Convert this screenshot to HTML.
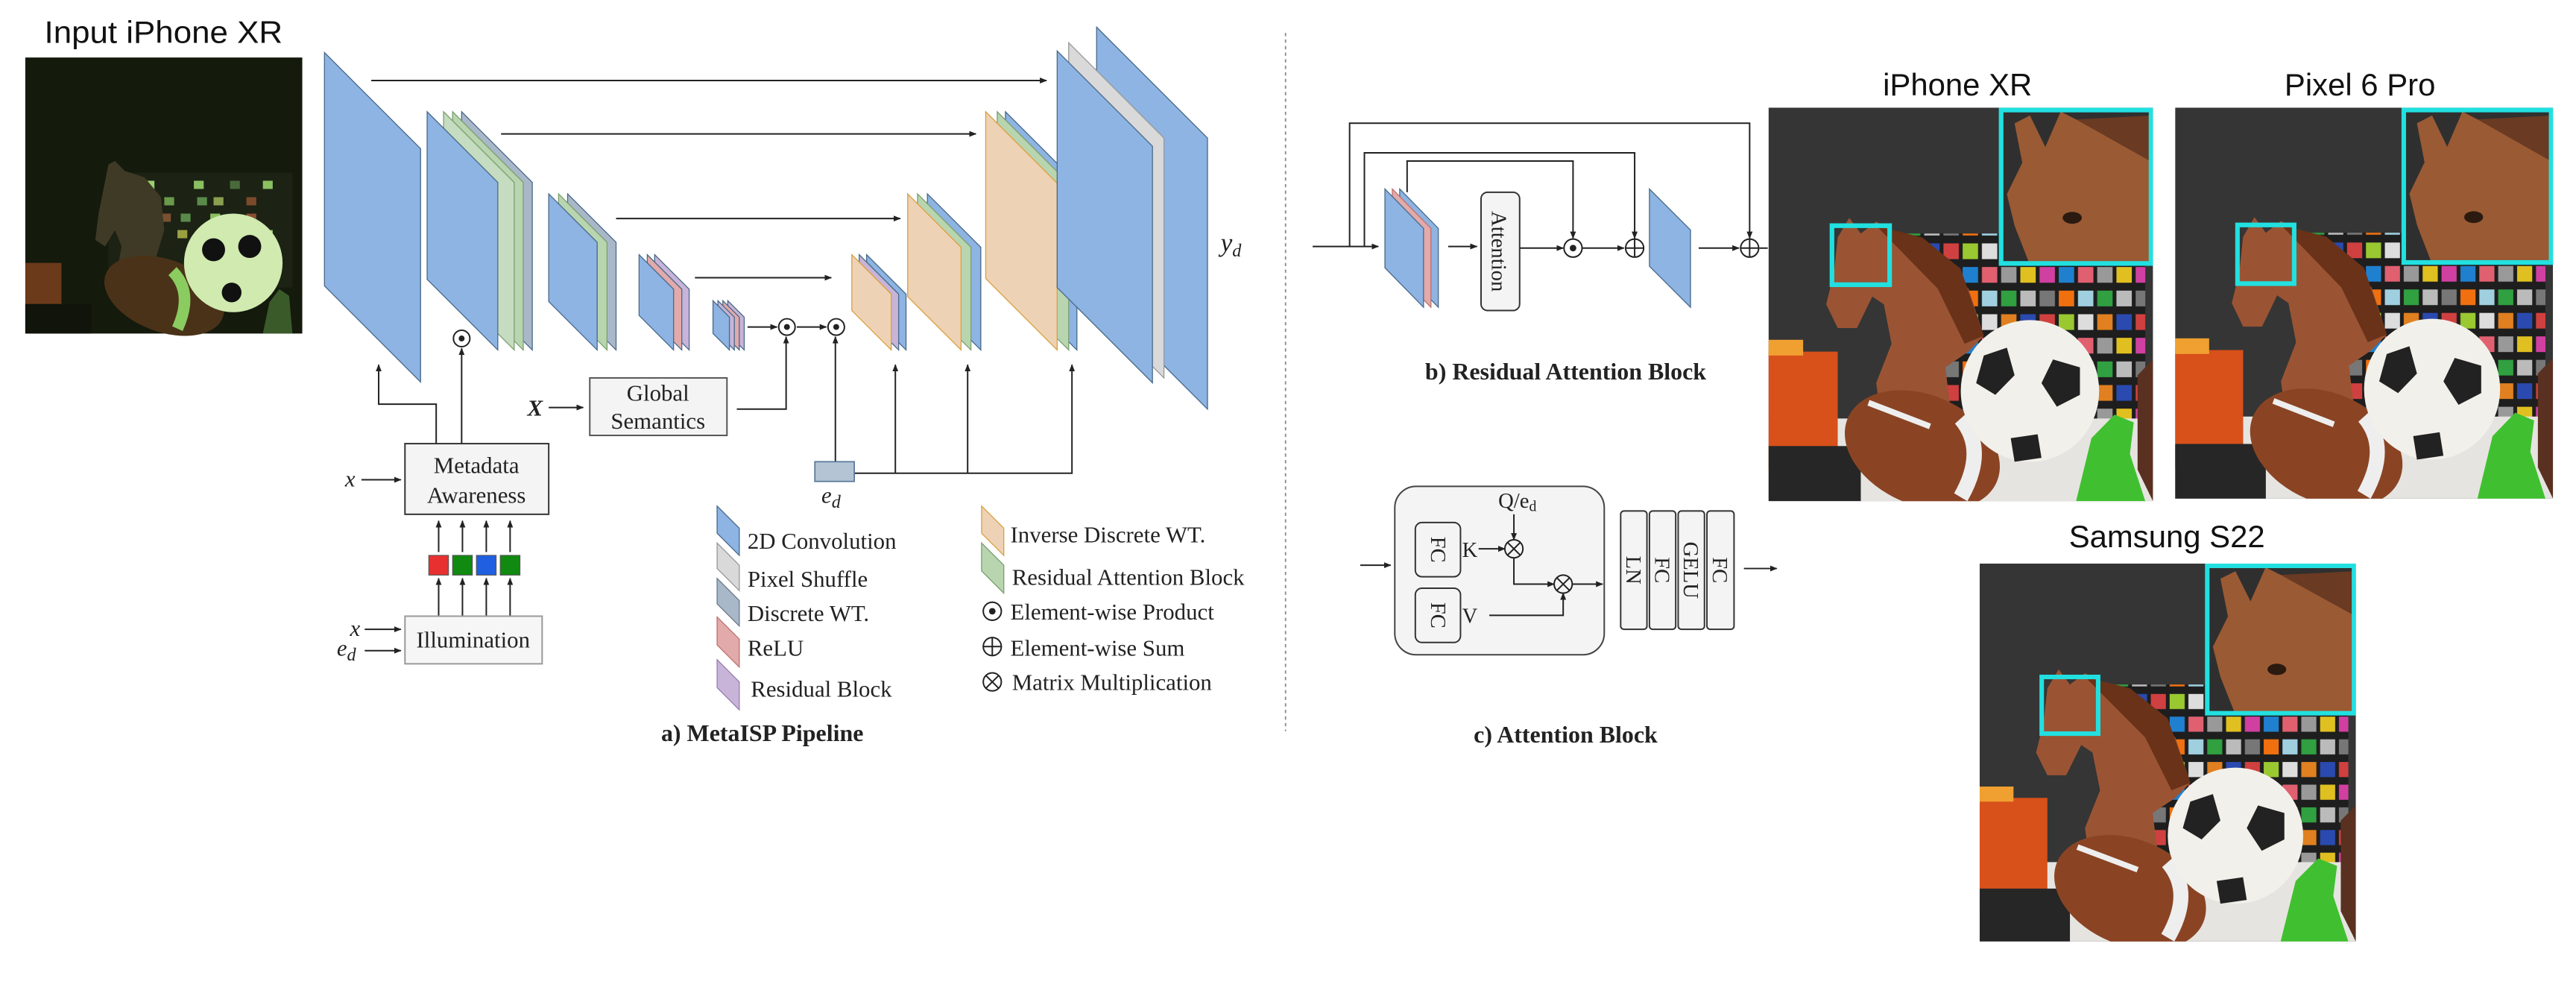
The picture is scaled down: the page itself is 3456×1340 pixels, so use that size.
<!DOCTYPE html>
<html><head><meta charset="utf-8"><style>
html,body{margin:0;padding:0;background:#fff;}
svg{display:block;}
.s{font-family:"Liberation Serif",serif;fill:#222;}
.a{font-family:"Liberation Sans",sans-serif;fill:#111;}
</style></head><body>
<svg width="3456" height="1340" viewBox="0 0 1568 608" preserveAspectRatio="none" xmlns="http://www.w3.org/2000/svg">
<defs>
<marker id="ar" viewBox="0 0 10 10" refX="9" refY="5" markerWidth="5" markerHeight="5" orient="auto"><path d="M0,1 L10,5 L0,9 z" fill="#222"/></marker>
<pattern id="chk" x="35" y="34" width="25" height="18" patternUnits="userSpaceOnUse">
<rect width="25" height="18" fill="#1e1e1e"/>
<rect x="0.5" y="0.5" width="4" height="4" fill="#e08020"/><rect x="5.5" y="0.5" width="4" height="4" fill="#2a4ab0"/><rect x="10.5" y="0.5" width="4" height="4" fill="#d04040"/><rect x="15.5" y="0.5" width="4" height="4" fill="#9ac830"/><rect x="20.5" y="0.5" width="4" height="4" fill="#ddd"/>
<rect x="0.5" y="6.5" width="4" height="4" fill="#999"/><rect x="5.5" y="6.5" width="4" height="4" fill="#e0c020"/><rect x="10.5" y="6.5" width="4" height="4" fill="#d040a0"/><rect x="15.5" y="6.5" width="4" height="4" fill="#2080d0"/><rect x="20.5" y="6.5" width="4" height="4" fill="#e06070"/>
<rect x="0.5" y="12.5" width="4" height="4" fill="#30a040"/><rect x="5.5" y="12.5" width="4" height="4" fill="#bbb"/><rect x="10.5" y="12.5" width="4" height="4" fill="#777"/><rect x="15.5" y="12.5" width="4" height="4" fill="#f07010"/><rect x="20.5" y="12.5" width="4" height="4" fill="#a0d0e0"/>
</pattern>
<symbol id="photo" viewBox="0 0 100 100" preserveAspectRatio="none">
<rect width="100" height="100" fill="#353535"/>
<rect x="33" y="32" width="65" height="50" fill="url(#chk)"/>
<path d="M18,33 L21,28 L24,32 L28,29 L34,32 L44,38 L52,46 L56,58 L52,62 L46,66 L48,82 L30,84 L28,70 L32,60 L30,50 L27,48 L23,56 L18,56 L15,50 L17,42 Z" fill="#9a5434"/>
<path d="M28,30 L40,33 L50,41 L56,58 L51,60 L44,46 Z" fill="#6a3218"/>
<rect x="0" y="79" width="100" height="21" fill="#e6e4e0"/>
<rect x="0" y="62" width="18" height="30" fill="#d8501a"/><rect x="0" y="59" width="9" height="4" fill="#f0a030"/>
<rect x="0" y="86" width="24" height="14" fill="#262626"/>
<ellipse cx="40" cy="87" rx="21" ry="14" transform="rotate(22 40 87)" fill="#8a4424"/>
<path d="M50,79 Q57,87 50,99" stroke="#eee" stroke-width="4" fill="none"/>
<path d="M26,75 L42,81" stroke="#eee" stroke-width="1.5"/>
<circle cx="68" cy="72" r="18" fill="#f2f0ea"/>
<path d="M56,63 L62,61 L64,68 L59,73 L54,70 Z" fill="#222"/><path d="M74,64 L81,66 L81,73 L75,76 L71,70 Z" fill="#222"/><path d="M63,84 L70,83 L71,89 L64,90 Z" fill="#222"/>
<path d="M84,84 L90,78 L95,80 L94,88 L98,100 L80,100 Z" fill="#40c030"/>
<path d="M96,68 L100,64 L100,100 L96,92 Z" fill="#5a3020"/>
<rect x="60" y="0" width="40" height="40" fill="#2f2f2f"/>
<path d="M64,4 L68,2 L72,10 L76,1 L80,3 L100,5 L100,40 L68,40 L64,30 L62,22 L66,14 Z" fill="#9a5a34"/>
<path d="M80,3 L100,2 L100,14 Z" fill="#6a3a22"/>
<ellipse cx="79" cy="28" rx="2.5" ry="1.5" fill="#2a1a10"/>
<rect x="60.5" y="0.6" width="39" height="39" fill="none" stroke="#22e0e0" stroke-width="1.2"/>
<rect x="16.5" y="30" width="15" height="15" fill="none" stroke="#22e0e0" stroke-width="1.2"/>
</symbol>
</defs>

<!-- Input photo -->
<text class="a" x="27" y="26" font-size="19" textLength="145" lengthAdjust="spacingAndGlyphs">Input iPhone XR</text>
<g>
<rect x="15.4" y="35" width="168.6" height="168" fill="#141a0c"/>
<rect x="66" y="105" width="112" height="70" fill="#1c2214"/>
<g fill="#6a9a4a">
<rect x="72" y="110" width="6" height="5"/><rect x="88" y="110" width="6" height="5" fill="#9ad070"/><rect x="118" y="110" width="6" height="5" fill="#8ac060"/><rect x="160" y="110" width="6" height="5" fill="#8ac060"/><rect x="140" y="110" width="6" height="5" fill="#4a6a3a"/>
<rect x="80" y="120" width="6" height="5" fill="#6a6a3a"/><rect x="100" y="120" width="6" height="5"/><rect x="120" y="120" width="6" height="5" fill="#5a8a4a"/><rect x="130" y="120" width="6" height="5" fill="#8aa050"/><rect x="150" y="120" width="6" height="5" fill="#7a4a2a"/>
<rect x="78" y="130" width="6" height="5" fill="#8a7040"/><rect x="98" y="130" width="6" height="5" fill="#7a5030"/><rect x="128" y="130" width="6" height="5" fill="#8ac060"/><rect x="150" y="130" width="6" height="5" fill="#8a5030"/><rect x="110" y="130" width="6" height="5" fill="#5a8a4a"/>
<rect x="88" y="140" width="6" height="5" fill="#4a9a4a"/><rect x="108" y="140" width="6" height="5" fill="#9aa040"/><rect x="138" y="140" width="6" height="5" fill="#8ac060"/><rect x="160" y="140" width="6" height="5" fill="#9ad070"/>
<rect x="86" y="150" width="6" height="5" fill="#8ac060"/><rect x="118" y="150" width="6" height="5"/><rect x="146" y="150" width="6" height="5" fill="#a05a30"/>
<rect x="120" y="160" width="6" height="5" fill="#8ac060"/><rect x="150" y="160" width="6" height="5"/><rect x="162" y="162" width="6" height="5" fill="#9ad070"/>
</g>
<path d="M66,100 L70,98 L76,104 L88,108 L98,120 L100,140 L94,160 L80,172 L70,172 L74,150 L70,140 L64,150 L58,146 L60,130 Z" fill="#3e3a26"/>
<rect x="15.4" y="160" width="22" height="43" fill="#6a3a1a"/>
<rect x="15.4" y="185" width="40" height="18" fill="#10140a"/>
<ellipse cx="100" cy="180" rx="38" ry="22" transform="rotate(20 100 180)" fill="#4a3218"/>
<path d="M105,165 Q118,178 108,200" stroke="#8acc60" stroke-width="7" fill="none"/>
<circle cx="142" cy="160" r="30" fill="#d0eab0"/>
<circle cx="130" cy="152" r="7" fill="#111"/><circle cx="152" cy="150" r="7" fill="#111"/><circle cx="141" cy="178" r="6" fill="#111"/>
<path d="M164,184 L170,176 L176,180 L178,203 L160,203 Z" fill="#3a5a2a"/>
</g>

<!-- Encoder layers -->
<g stroke="#4a6a8a" stroke-width="0.6">
<polygon points="197.5,32 256,90.5 256,232.5 197.5,174" fill="#8db4e2"/>
<polygon points="281,68 324,111 324,213 281,170" fill="#a9b8c9"/>
<polygon points="275.5,68 318.5,111 318.5,213 275.5,170" fill="#b9d5b0" stroke="#7aa070"/>
<polygon points="270,68 313,111 313,213 270,170" fill="#c6dcc0" stroke="#7aa070"/>
<polygon points="260,68 303,111 303,213 260,170" fill="#8db4e2"/>
<polygon points="345.5,118 375,147.5 375,213 345.5,183.5" fill="#a9b8c9"/>
<polygon points="340,118 369.5,147.5 369.5,213 340,183.5" fill="#b9d5b0" stroke="#7aa070"/>
<polygon points="334,118 363.5,147.5 363.5,213 334,183.5" fill="#8db4e2"/>
<polygon points="398.5,155 419.5,176 419.5,213 398.5,192" fill="#c8b4d8"/>
<polygon points="394,155 415,176 415,213 394,192" fill="#e2aaaa"/>
<polygon points="389,155 410,176 410,213 389,192" fill="#8db4e2"/>
<polygon points="443,183 453,193 453,213 443,203" fill="#c8b4d8"/>
<polygon points="440,183 450,193 450,213 440,203" fill="#e2aaaa"/>
<polygon points="437,183 447,193 447,213 437,203" fill="#c8b4d8"/>
<polygon points="434,183 444,193 444,213 434,203" fill="#8db4e2"/>
<polygon points="527.5,155 551.5,179 551.5,213 527.5,189" fill="#8db4e2"/>
<polygon points="523,155 547,179 547,213 523,189" fill="#c8b4d8"/>
<polygon points="518.5,155 542.5,179 542.5,213 518.5,189" fill="#eed2b6" stroke="#d9a040"/>
<polygon points="564.5,118 597,150.5 597,213 564.5,180.5" fill="#8db4e2"/>
<polygon points="558.5,118 591,150.5 591,213 558.5,180.5" fill="#b9d5b0" stroke="#7aa070"/>
<polygon points="552.5,118 585,150.5 585,213 552.5,180.5" fill="#eed2b6" stroke="#d9a040"/>
<polygon points="612,68 655.5,111.5 655.5,213 612,169.5" fill="#8db4e2"/>
<polygon points="607,68 650.5,111.5 650.5,213 607,169.5" fill="#b9d5b0" stroke="#7aa070"/>
<polygon points="600,68 643.5,111.5 643.5,213 600,169.5" fill="#eed2b6" stroke="#d9a040"/>
<polygon points="667.5,16.5 735,84 735,249 667.5,181.5" fill="#8db4e2"/>
<polygon points="650.5,26 708.5,84 708.5,230 650.5,172" fill="#d9d9d9" stroke="#999"/>
<polygon points="643.5,31 701.5,89 701.5,233 643.5,175" fill="#8db4e2"/>
</g>
<text class="s" x="743" y="153" font-size="16" font-style="italic">y<tspan font-size="11" dy="3">d</tspan></text>

<g stroke="#222" stroke-width="0.9" fill="none">
<line x1="226" y1="49" x2="637" y2="49" marker-end="url(#ar)"/>
<line x1="305" y1="81.5" x2="594" y2="81.5" marker-end="url(#ar)"/>
<line x1="375" y1="133" x2="548" y2="133" marker-end="url(#ar)"/>
<line x1="423" y1="169" x2="506" y2="169" marker-end="url(#ar)"/>
<line x1="455" y1="199" x2="473" y2="199" marker-end="url(#ar)"/>
<line x1="485" y1="199" x2="503" y2="199" marker-end="url(#ar)"/>
<circle cx="479" cy="199" r="5"/><circle cx="509" cy="199" r="5"/><circle cx="281" cy="206" r="5"/>
<polyline points="265.5,270 265.5,246 230.5,246 230.5,222" marker-end="url(#ar)"/>
<line x1="281" y1="270" x2="281" y2="212" marker-end="url(#ar)"/>
<line x1="220" y1="292" x2="244" y2="292" marker-end="url(#ar)"/>
<line x1="267" y1="336" x2="267" y2="317" marker-end="url(#ar)"/>
<line x1="281.5" y1="336" x2="281.5" y2="317" marker-end="url(#ar)"/>
<line x1="296" y1="336" x2="296" y2="317" marker-end="url(#ar)"/>
<line x1="310.5" y1="336" x2="310.5" y2="317" marker-end="url(#ar)"/>
<line x1="267" y1="375" x2="267" y2="352" marker-end="url(#ar)"/>
<line x1="281.5" y1="375" x2="281.5" y2="352" marker-end="url(#ar)"/>
<line x1="296" y1="375" x2="296" y2="352" marker-end="url(#ar)"/>
<line x1="310.5" y1="375" x2="310.5" y2="352" marker-end="url(#ar)"/>
<line x1="222" y1="383" x2="244" y2="383" marker-end="url(#ar)"/>
<line x1="222" y1="396" x2="244" y2="396" marker-end="url(#ar)"/>
<line x1="334" y1="248" x2="355" y2="248" marker-end="url(#ar)"/>
<polyline points="448.5,249 478.5,249 478.5,205" marker-end="url(#ar)"/>
<line x1="508.5" y1="281" x2="508.5" y2="205" marker-end="url(#ar)"/>
<polyline points="520,288 652.5,288 652.5,222" marker-end="url(#ar)"/>
<line x1="545" y1="288" x2="545" y2="222" marker-end="url(#ar)"/>
<line x1="589" y1="288" x2="589" y2="222" marker-end="url(#ar)"/>
</g>
<g fill="#222"><circle cx="479" cy="199" r="1.8"/><circle cx="509" cy="199" r="1.8"/><circle cx="281" cy="206" r="1.8"/></g>

<rect x="246.5" y="270" width="87.5" height="43" fill="#f4f4f4" stroke="#333" stroke-width="0.9"/>
<text class="s" x="290" y="288" font-size="14" text-anchor="middle">Metadata</text>
<text class="s" x="290" y="306" font-size="14" text-anchor="middle">Awareness</text>
<text class="s" x="210" y="296" font-size="14" font-style="italic">x</text>
<rect x="261" y="338" width="12" height="12" fill="#e83030" stroke="#555" stroke-width="0.5"/>
<rect x="275.5" y="338" width="12" height="12" fill="#108a10" stroke="#555" stroke-width="0.5"/>
<rect x="290" y="338" width="12" height="12" fill="#1f5fe0" stroke="#555" stroke-width="0.5"/>
<rect x="304.5" y="338" width="12" height="12" fill="#108a10" stroke="#555" stroke-width="0.5"/>
<rect x="246.5" y="375" width="83.5" height="29" fill="#f6f6f6" stroke="#999" stroke-width="0.9"/>
<text class="s" x="288" y="394" font-size="14" text-anchor="middle">Illumination</text>
<text class="s" x="213" y="387" font-size="14" font-style="italic">x</text>
<text class="s" x="205" y="399" font-size="14" font-style="italic">e<tspan font-size="11" dy="3">d</tspan></text>
<rect x="359" y="230" width="83.5" height="35" fill="#f4f4f4" stroke="#555" stroke-width="0.9"/>
<text class="s" x="400.5" y="244" font-size="14" text-anchor="middle">Global</text>
<text class="s" x="400.5" y="261" font-size="14" text-anchor="middle">Semantics</text>
<text class="s" x="321" y="253" font-size="14" font-style="italic" font-weight="bold">X</text>
<rect x="496" y="281" width="24" height="12" fill="#b4c4d4" stroke="#5a7a9a" stroke-width="0.8"/>
<text class="s" x="500" y="306" font-size="14" font-style="italic">e<tspan font-size="11" dy="3">d</tspan></text>

<g stroke-width="0.6">
<polygon points="436.5,308 450,321.5 450,338 436.5,324.5" fill="#8db4e2" stroke="#4a6a8a"/>
<polygon points="436.5,330.5 450,344 450,359.5 436.5,346" fill="#d9d9d9" stroke="#999"/>
<polygon points="436.5,352 450,365.5 450,381 436.5,367.5" fill="#a9b8c9" stroke="#6a7a8a"/>
<polygon points="436.5,375.5 450,389 450,406 436.5,392.5" fill="#e2aaaa" stroke="#c07070"/>
<polygon points="436.5,401.5 450,415 450,432 436.5,418.5" fill="#c8b4d8" stroke="#9a80b0"/>
<polygon points="597.5,308 611,321.5 611,338 597.5,324.5" fill="#eed2b6" stroke="#d9a040"/>
<polygon points="597.5,330.5 611,344 611,361 597.5,347.5" fill="#b9d5b0" stroke="#7aa070"/>
</g>
<g class="s" font-size="14">
<text x="455" y="334">2D Convolution</text>
<text x="455" y="357">Pixel Shuffle</text>
<text x="455" y="378">Discrete WT.</text>
<text x="455" y="399">ReLU</text>
<text x="457" y="424">Residual Block</text>
<text x="615" y="330">Inverse Discrete WT.</text>
<text x="616" y="356">Residual Attention Block</text>
<text x="615" y="377">Element-wise Product</text>
<text x="615" y="399">Element-wise Sum</text>
<text x="616" y="420">Matrix Multiplication</text>
</g>
<g stroke="#222" stroke-width="0.9" fill="none">
<circle cx="604" cy="372" r="5.5"/><circle cx="604" cy="393.5" r="5.5"/><circle cx="604" cy="415" r="5.5"/>
<path d="M598.5,393.5 H609.5 M604,388 V399 M600.1,411.1 L607.9,418.9 M607.9,411.1 L600.1,418.9"/>
</g>
<circle cx="604" cy="372" r="2" fill="#222"/>
<text class="s" x="464" y="451" font-size="14.5" font-weight="bold" text-anchor="middle">a) MetaISP Pipeline</text>

<line x1="782.5" y1="20" x2="782.5" y2="445" stroke="#888" stroke-width="0.8" stroke-dasharray="2,2"/>

<g stroke-width="0.6">
<polygon points="852,115 875.5,139 875.5,187 852,163" fill="#8db4e2" stroke="#4a6a8a"/>
<polygon points="847.5,115 871,139 871,187 847.5,163" fill="#e2aaaa" stroke="#c07070"/>
<polygon points="843,115 866.5,139 866.5,187 843,163" fill="#8db4e2" stroke="#4a6a8a"/>
<polygon points="1004,115 1029,140 1029,187 1004,162" fill="#8db4e2" stroke="#4a6a8a"/>
</g>
<rect x="901.5" y="117" width="23.5" height="72" rx="4" fill="#f4f4f4" stroke="#333" stroke-width="0.9"/>
<text class="s" font-size="13" transform="translate(908,153) rotate(90)" text-anchor="middle">Attention</text>
<g stroke="#222" stroke-width="0.9" fill="none">
<line x1="799" y1="150" x2="839" y2="150" marker-end="url(#ar)"/>
<polyline points="821.5,150 821.5,75 1065,75 1065,145" marker-end="url(#ar)"/>
<polyline points="830.5,150 830.5,93 995,93 995,145" marker-end="url(#ar)"/>
<polyline points="856.5,117 856.5,98 957.5,98 957.5,145" marker-end="url(#ar)"/>
<line x1="881.5" y1="150" x2="899" y2="150" marker-end="url(#ar)"/>
<line x1="925" y1="151" x2="951.5" y2="151" marker-end="url(#ar)"/>
<line x1="963" y1="151" x2="988.5" y2="151" marker-end="url(#ar)"/>
<line x1="1034" y1="151" x2="1058.5" y2="151" marker-end="url(#ar)"/>
<line x1="1071" y1="151" x2="1076" y2="151"/>
<circle cx="957.5" cy="151" r="5.5"/><circle cx="995" cy="151" r="5.5"/><circle cx="1065" cy="151" r="5.5"/>
<path d="M989.5,151 H1000.5 M995,145.5 V156.5 M1059.5,151 H1070.5 M1065,145.5 V156.5"/>
</g>
<circle cx="957.5" cy="151" r="2" fill="#222"/>
<text class="s" x="953" y="231" font-size="14.5" font-weight="bold" text-anchor="middle">b) Residual Attention Block</text>

<rect x="849" y="296" width="127.5" height="102.5" rx="13" fill="#f4f4f4" stroke="#444" stroke-width="0.9"/>
<rect x="861.5" y="318" width="27.5" height="33" rx="4" fill="#f4f4f4" stroke="#333" stroke-width="0.9"/>
<rect x="861.5" y="358" width="27.5" height="33" rx="4" fill="#f4f4f4" stroke="#333" stroke-width="0.9"/>
<text class="s" font-size="13" transform="translate(871,334.5) rotate(90)" text-anchor="middle">FC</text>
<text class="s" font-size="13" transform="translate(871,374.5) rotate(90)" text-anchor="middle">FC</text>
<text class="s" x="890" y="339" font-size="13">K</text>
<text class="s" x="890" y="379" font-size="13">V</text>
<text class="s" x="912" y="309" font-size="13">Q/e<tspan font-size="9" dy="2">d</tspan></text>
<g stroke="#222" stroke-width="0.9" fill="none">
<line x1="828" y1="344" x2="846.5" y2="344" marker-end="url(#ar)"/>
<line x1="900" y1="334" x2="916" y2="334" marker-end="url(#ar)"/>
<line x1="921.5" y1="313" x2="921.5" y2="328.5" marker-end="url(#ar)"/>
<polyline points="921.5,339.5 921.5,355.5 946,355.5" marker-end="url(#ar)"/>
<polyline points="906.5,374.5 951.5,374.5 951.5,361" marker-end="url(#ar)"/>
<line x1="957" y1="355.5" x2="975.5" y2="355.5" marker-end="url(#ar)"/>
<line x1="1061.5" y1="346" x2="1081.5" y2="346" marker-end="url(#ar)"/>
<circle cx="921.5" cy="334" r="5.5"/><circle cx="951.5" cy="355.5" r="5.5"/>
<path d="M917.6,330.1 L925.4,337.9 M925.4,330.1 L917.6,337.9 M947.6,351.6 L955.4,359.4 M955.4,351.6 L947.6,359.4"/>
</g>
<g fill="#f4f4f4" stroke="#333" stroke-width="0.9">
<rect x="986.5" y="311" width="16" height="72" rx="2"/>
<rect x="1004" y="311" width="16" height="72" rx="2"/>
<rect x="1021.5" y="311" width="16" height="72" rx="2"/>
<rect x="1039" y="311" width="16.5" height="72" rx="2"/>
</g>
<text class="s" font-size="13" transform="translate(990,347) rotate(90)" text-anchor="middle">LN</text>
<text class="s" font-size="13" transform="translate(1007.5,347) rotate(90)" text-anchor="middle">FC</text>
<text class="s" font-size="13" transform="translate(1025,347) rotate(90)" text-anchor="middle">GELU</text>
<text class="s" font-size="13" transform="translate(1042.5,347) rotate(90)" text-anchor="middle">FC</text>
<text class="s" x="953" y="452" font-size="14.5" font-weight="bold" text-anchor="middle">c) Attention Block</text>

<text class="a" x="1191.5" y="58" font-size="19" text-anchor="middle">iPhone XR</text>
<use href="#photo" x="1076.5" y="65.5" width="234" height="239.5"/>
<text class="a" x="1436.5" y="58" font-size="19" text-anchor="middle">Pixel 6 Pro</text>
<use href="#photo" x="1324" y="65.5" width="230" height="238"/>
<text class="a" x="1319" y="333" font-size="19" text-anchor="middle">Samsung S22</text>
<use href="#photo" x="1205" y="343" width="229" height="230"/>
</svg>
</body></html>
